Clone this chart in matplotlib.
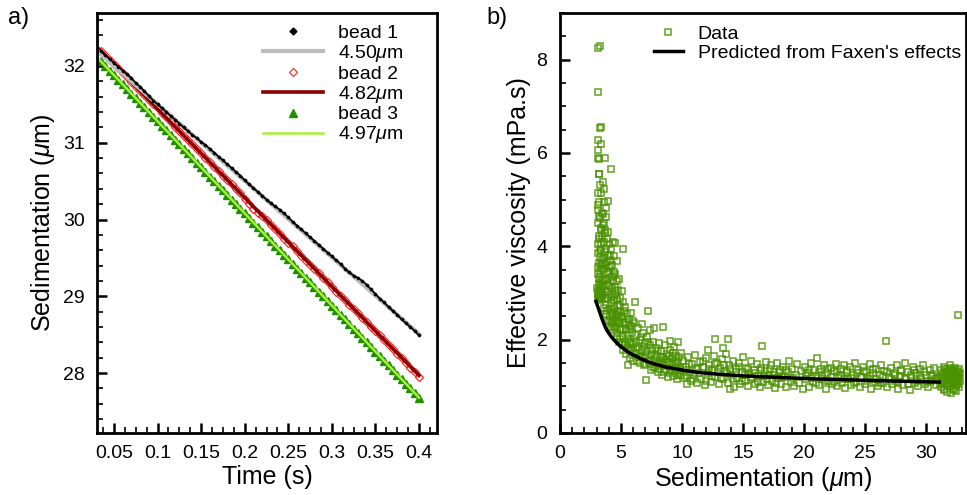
import numpy as np
import matplotlib.pyplot as plt
from matplotlib.ticker import MultipleLocator, FuncFormatter
from matplotlib.lines import Line2D

plt.rcParams['font.family'] = ['Liberation Sans', 'DejaVu Sans']
plt.rcParams['mathtext.fontset'] = 'custom'
plt.rcParams['mathtext.it'] = 'Liberation Sans:italic'
plt.rcParams['mathtext.rm'] = 'Liberation Sans'

# ---- panel a: sedimentation vs time for three beads ----
time = np.linspace(0.035, 0.4, 74)

bead1 = [32.19, 32.14, 32.09, 32.04, 31.99, 31.94, 31.89, 31.84, 31.78, 31.73,
         31.67, 31.61, 31.55, 31.50, 31.45, 31.40, 31.35, 31.30, 31.25, 31.20,
         31.15, 31.10, 31.06, 31.01, 30.97, 30.92, 30.87, 30.82, 30.77, 30.72,
         30.67, 30.62, 30.57, 30.51, 30.46, 30.41, 30.36, 30.31, 30.26, 30.21,
         30.17, 30.13, 30.08, 30.03, 29.97, 29.92, 29.87, 29.82, 29.77, 29.72,
         29.67, 29.62, 29.57, 29.52, 29.47, 29.42, 29.36, 29.31, 29.27, 29.24,
         29.20, 29.15, 29.09, 29.03, 28.97, 28.92, 28.86, 28.81, 28.76, 28.70,
         28.65, 28.60, 28.55, 28.49]
bead2 = [32.20, 32.14, 32.08, 32.02, 31.97, 31.91, 31.85, 31.79, 31.73, 31.67,
         31.62, 31.56, 31.50, 31.45, 31.39, 31.33, 31.27, 31.21, 31.15, 31.09,
         31.04, 30.98, 30.92, 30.86, 30.80, 30.75, 30.69, 30.63, 30.57, 30.51,
         30.46, 30.40, 30.34, 30.27, 30.20, 30.14, 30.09, 30.04, 29.99, 29.93,
         29.87, 29.81, 29.75, 29.70, 29.65, 29.59, 29.52, 29.46, 29.41, 29.36,
         29.30, 29.24, 29.18, 29.12, 29.06, 29.01, 28.95, 28.89, 28.84, 28.78,
         28.72, 28.66, 28.60, 28.55, 28.49, 28.43, 28.37, 28.31, 28.25, 28.19,
         28.13, 28.07, 28.01, 27.95]
bead3 = [32.06, 32.00, 31.94, 31.88, 31.82, 31.76, 31.70, 31.64, 31.58, 31.52,
         31.46, 31.40, 31.34, 31.28, 31.22, 31.16, 31.10, 31.04, 30.98, 30.92,
         30.86, 30.80, 30.74, 30.68, 30.62, 30.56, 30.50, 30.44, 30.38, 30.32,
         30.26, 30.20, 30.14, 30.08, 30.02, 29.96, 29.90, 29.84, 29.78, 29.72,
         29.66, 29.60, 29.54, 29.48, 29.42, 29.36, 29.30, 29.24, 29.18, 29.12,
         29.06, 29.00, 28.94, 28.88, 28.82, 28.76, 28.70, 28.64, 28.58, 28.52,
         28.46, 28.40, 28.34, 28.28, 28.22, 28.16, 28.10, 28.04, 27.98, 27.92,
         27.86, 27.80, 27.74, 27.67]

# fitted trajectories (bead diameters)
fit_t = [0.03, 0.4]
fit1 = [32.20, 28.51]   # 4.50 um
fit2 = [32.25, 27.97]   # 4.82 um
fit3 = [32.12, 27.68]   # 4.97 um

# ---- panel b: effective viscosity vs sedimentation ----
visc_x = [
    # close to the wall
    3.13, 3.30, 3.13, 3.27, 3.35, 3.13, 3.35, 3.13, 3.13, 3.20, 3.19, 3.19, 3.15, 3.40, 3.13,
    3.19, 3.13, 3.40, 3.13, 3.22, 3.10, 3.28, 3.35, 3.18, 3.25, 3.45, 3.12, 3.30, 3.22, 3.38,
    3.15, 3.48, 3.26, 3.10, 3.33, 3.20, 3.42, 3.17, 3.29, 3.36, 3.11, 3.24, 3.47, 3.19, 3.31,
    3.05, 3.39, 3.21, 3.14, 3.44, 3.27, 3.08, 3.35, 3.23, 3.16, 3.46, 3.30, 3.12, 3.40, 3.25,
    3.68, 4.17, 3.55, 3.60, 3.95, 3.60, 3.79, 3.55, 3.60, 3.68, 4.36, 4.50, 3.68, 4.05, 3.85,
    4.20, 3.75, 4.40, 3.90, 4.10, 3.58, 4.30, 3.72, 4.00, 4.45, 3.82, 4.15, 3.65, 4.35, 3.95,
    4.25, 3.55, 4.48, 3.88, 4.05, 3.70, 4.40, 4.20, 3.80, 4.00, 4.30, 3.62, 4.10, 4.45, 3.92,
    4.25, 4.50, 3.75, 4.35, 4.15,
    5.18, 4.64, 4.77, 4.55, 4.70, 4.85, 4.60, 4.95, 5.05, 4.75, 5.20, 4.90, 5.35, 4.58, 5.10,
    5.50, 4.80, 5.25, 5.65, 4.98, 5.40, 5.80, 5.15, 5.60, 4.70, 5.90, 5.30, 5.75, 5.05, 5.55,
    5.95, 5.45, 5.85, 5.70, 5.54, 5.98, 5.20, 4.88, 5.62, 5.82,
    6.14, 7.23, 6.74, 7.69, 8.46, 9.00, 9.68, 7.09,
    6.05, 6.20, 6.30, 6.40, 6.45, 6.55, 6.60, 6.70, 6.80, 6.85, 6.95, 7.05, 7.15, 7.30, 7.35,
    7.45, 7.50, 7.60, 7.70, 7.80, 7.85, 7.95, 8.05, 8.10, 8.20, 8.30, 8.35, 8.45, 8.55, 8.60,
    8.70, 8.80, 8.85, 8.95, 9.05, 9.10, 9.20, 9.30, 9.35, 9.45, 9.55, 9.60, 9.70, 9.80, 9.90,
    9.95, 6.25, 6.90, 7.40, 8.00, 8.65, 9.50,
    # mid range
    12.68, 13.77, 12.14, 13.37, 13.97, 16.56,
    10.05, 10.15, 10.30, 10.40, 10.50, 10.65, 10.75, 10.85, 11.00, 11.10, 11.25, 11.35, 11.50,
    11.60, 11.75, 11.85, 12.00, 12.10, 12.25, 12.35, 12.50, 12.60, 12.75, 12.85, 13.00, 13.10,
    13.25, 13.35, 13.50, 13.60, 13.75, 13.85, 14.00, 14.15, 14.25, 14.40, 14.50, 14.65, 14.75,
    14.90, 15.00, 15.15, 15.25, 15.40, 15.50, 15.65, 15.75, 15.90, 16.00, 16.15, 16.25, 16.40,
    16.50, 16.65, 16.80, 16.90, 17.05, 17.15, 17.30, 17.40, 17.55, 17.65, 17.80, 17.90, 18.05,
    18.15, 18.30, 18.45, 18.55, 18.70, 18.80, 18.95, 19.05, 19.20, 19.35, 19.45, 19.60, 19.75,
    19.90,
    # far from the wall
    20.05, 20.20, 20.35, 20.45, 20.60, 20.75, 20.85, 21.00, 21.10, 21.25, 21.40, 21.50, 21.65,
    21.80, 21.90, 22.05, 22.20, 22.30, 22.45, 22.60, 22.70, 22.85, 23.00, 23.10, 23.25, 23.40,
    23.50, 23.65, 23.80, 23.90, 24.05, 24.20, 24.30, 24.45, 24.60, 24.70, 24.85, 25.00, 25.10,
    25.25, 25.40, 25.50, 25.65, 25.80, 25.90, 26.05, 26.20, 26.35, 26.45, 26.60, 26.73, 26.80,
    26.95, 27.10, 27.20, 27.35, 27.50, 27.60, 27.75, 27.90, 28.00, 28.15, 28.30, 28.40, 28.55,
    28.70, 28.80, 28.95, 29.10, 29.20, 29.35, 29.50, 29.60, 29.75, 29.90, 30.00, 30.15, 30.30,
    30.40, 30.55, 30.70, 30.80, 30.95,
    31.10, 31.20, 31.25, 31.30, 31.40, 31.45, 31.50, 31.55, 31.60, 31.65, 31.70, 31.75, 31.80,
    31.85, 31.90, 31.95, 32.00, 32.05, 32.10, 32.15, 32.20, 32.25, 32.30, 32.35, 32.40, 32.45,
    32.50, 32.55, 32.60, 32.65, 32.70, 32.75, 32.80, 31.35, 31.95, 32.12, 32.42, 32.58, 32.68,
    32.60]
visc_y = [
    8.26, 8.30, 7.30, 6.54, 6.55, 6.27, 6.20, 6.07, 5.90, 5.88, 5.54, 5.56, 5.15, 5.14, 4.88,
    4.64, 4.78, 4.40, 4.49, 4.23, 4.05, 4.60, 4.35, 4.15, 3.95, 4.20, 3.85, 3.78, 3.65, 3.90,
    3.55, 3.70, 3.48, 3.40, 3.60, 3.30, 3.52, 3.20, 3.35, 3.12, 3.05, 3.18, 3.28, 2.98, 3.02,
    3.10, 2.92, 2.92, 2.88, 3.00, 2.86, 2.95, 2.96, 2.90, 3.05, 2.99, 2.93, 2.97, 2.89, 3.08,
    5.90, 5.66, 5.37, 5.22, 4.97, 4.94, 4.83, 4.69, 4.50, 4.35, 4.10, 4.07, 4.28, 4.05, 4.15,
    3.95, 3.95, 3.80, 3.80, 3.70, 3.75, 3.60, 3.62, 3.55, 3.45, 3.45, 3.35, 3.30, 3.25, 3.20,
    3.10, 3.15, 3.05, 3.02, 2.95, 2.90, 2.85, 2.78, 2.75, 2.65, 2.60, 2.68, 2.50, 2.45, 2.40,
    2.35, 2.30, 2.55, 2.20, 2.28,
    3.94, 3.68, 3.07, 3.40, 3.25, 3.30, 2.95, 2.90, 3.05, 2.75, 2.80, 2.60, 2.70, 2.55, 2.50,
    2.55, 2.40, 2.35, 2.45, 2.20, 2.20, 2.30, 2.05, 2.10, 2.15, 2.15, 1.95, 1.95, 1.90, 1.85,
    1.90, 1.70, 1.75, 1.60, 1.46, 1.55, 1.78, 2.02, 2.32, 2.58,
    2.80, 2.62, 2.34, 2.25, 2.28, 1.97, 1.96, 1.14,
    2.35, 2.10, 1.85, 2.25, 1.62, 2.00, 1.50, 1.78, 2.15, 1.45, 1.92, 1.68, 2.05, 1.52, 1.88,
    1.70, 1.35, 1.95, 1.58, 1.40, 1.82, 1.65, 1.30, 1.92, 1.55, 1.75, 1.25, 1.62, 1.45, 1.88,
    1.35, 1.70, 1.20, 1.52, 1.78, 1.38, 1.60, 1.22, 1.85, 1.45, 1.65, 1.15, 1.50, 1.32, 1.72,
    1.25, 1.72, 1.60, 2.20, 1.48, 1.58, 1.40,
    2.02, 2.02, 1.78, 1.83, 0.94, 1.87,
    1.55, 1.18, 1.42, 1.05, 1.62, 1.30, 1.12, 1.48, 1.25, 1.68, 1.08, 1.38, 1.52,
    1.15, 1.42, 1.02, 1.60, 1.28, 1.45, 1.10, 1.35, 1.65, 1.20, 1.50, 1.05, 1.40,
    1.58, 1.15, 1.32, 1.70, 1.08, 1.45, 1.25, 1.55, 0.98, 1.38, 1.18, 1.50, 1.05,
    1.30, 1.62, 1.12, 1.40, 1.00, 1.28, 1.55, 1.15, 1.35, 1.05, 1.48, 1.22, 0.98,
    1.40, 1.10, 1.32, 1.52, 1.02, 1.25, 1.45, 1.12, 1.30, 0.96, 1.50, 1.18, 1.35,
    1.05, 1.42, 1.20, 0.98, 1.30, 1.55, 1.10, 1.38, 1.00, 1.25, 1.48, 1.08, 1.32,
    0.95,
    1.42, 1.15, 1.28, 0.98, 1.50, 1.10, 1.35, 1.22, 1.60, 1.02, 1.38, 1.15, 1.45,
    0.95, 1.28, 1.12, 1.40, 1.05, 1.32, 1.48, 1.00, 1.22, 1.38, 1.08, 1.45, 0.96,
    1.30, 1.15, 1.42, 1.02, 1.25, 1.50, 1.10, 1.35, 0.98, 1.20, 1.42, 1.05, 1.30,
    1.15, 1.48, 0.95, 1.28, 1.10, 1.38, 1.00, 1.25, 1.45, 1.08, 1.32, 1.97, 0.98,
    1.20, 1.40, 1.05, 1.28, 1.12, 1.45, 0.95, 1.22, 1.35, 1.02, 1.50, 1.15, 1.30,
    0.92, 1.20, 1.42, 1.08, 1.28, 1.00, 1.38, 1.15, 1.45, 1.05, 1.25, 0.98, 1.35,
    1.12, 1.22, 1.40, 1.02, 1.18,
    1.20, 0.98, 1.35, 1.10, 1.28, 0.92, 1.42, 1.15, 1.05, 1.30, 0.88, 1.22, 1.38,
    1.00, 1.18, 1.45, 1.08, 0.85, 1.25, 1.35, 0.95, 1.15, 1.28, 1.02, 1.40, 1.12,
    0.90, 1.22, 1.32, 1.05, 1.18, 0.98, 1.28, 1.18, 1.12, 1.20, 1.25, 1.08, 1.38,
    2.53]

# second pass of measurements (same bead, denser sampling)
visc_x_more = [
    3.50, 3.58, 3.66, 3.74, 3.82, 3.90, 3.98, 4.06, 4.14, 4.22, 4.30, 4.38, 4.46, 4.54, 4.62,
    4.70, 4.78, 4.86, 4.94, 3.52, 3.62, 3.71, 3.80, 3.88, 3.97, 4.08, 4.18, 4.28, 4.38, 4.48,
    4.58, 4.68, 4.76, 4.84, 4.92, 3.45, 3.38, 3.42, 3.28, 3.22,
    5.05, 5.15, 5.25, 5.35, 5.45, 5.55, 5.65, 5.75, 5.85, 5.95, 6.10, 6.20, 6.35, 6.50, 6.65,
    6.75, 6.90, 7.00, 7.10, 7.25, 7.40, 7.55, 7.65, 7.75, 7.90, 8.05, 8.15, 8.25, 8.40, 8.50,
    8.75, 8.90, 9.00, 9.15, 9.25, 9.40, 9.55, 9.65, 9.75, 9.85,
    10.10, 10.35, 10.60, 10.90, 11.15, 11.40, 11.70, 11.95, 12.20, 12.45, 12.70, 12.95, 13.20,
    13.45, 13.70, 13.95, 14.20, 14.45, 14.70, 14.95, 15.20, 15.45, 15.70, 15.95, 16.20, 16.45,
    16.70, 16.95, 17.20, 17.45, 17.70, 17.95, 18.20, 18.50, 19.10,
    20.15, 20.40, 20.70, 20.95, 21.20, 21.45, 21.70, 21.95, 22.25, 22.50, 22.75, 23.05, 23.30,
    23.55, 23.85, 24.10, 24.35, 24.65, 24.90, 25.20, 25.45, 25.70, 25.95, 26.25, 26.50, 26.85,
    27.15, 27.45, 27.70, 27.95, 28.25, 28.50, 28.75, 29.05, 29.30, 29.55, 29.85, 30.10, 30.45,
    30.75,
    31.15, 31.28, 31.42, 31.58, 31.72, 31.88, 32.02, 32.18, 32.32, 32.48, 32.62, 32.78, 31.52,
    31.98, 32.28, 32.52, 32.72, 32.08, 31.82, 32.38]
visc_y_more = [
    4.45, 4.10, 3.88, 4.62, 3.66, 4.30, 3.40, 3.82, 3.15, 3.58, 2.92, 3.36, 2.70, 3.12, 2.52,
    2.88, 2.62, 2.35, 2.72, 3.25, 3.52, 3.05, 3.28, 2.62, 2.88, 2.42, 2.66, 2.38, 2.56, 2.25,
    2.38, 2.05, 2.48, 1.95, 2.22, 3.62, 4.05, 4.72, 5.32, 4.95,
    2.45, 2.22, 2.62, 1.88, 2.38, 2.02, 1.78, 2.22, 1.92, 2.40, 1.70, 1.95, 1.55, 1.80, 2.05,
    1.62, 1.85, 1.48, 1.75, 1.95, 1.55, 1.78, 1.42, 1.68, 1.50, 1.75, 1.38, 1.62, 1.48, 1.30,
    1.52, 1.65, 1.28, 1.48, 1.72, 1.32, 1.55, 1.25, 1.62, 1.40,
    1.35, 1.22, 1.48, 1.15, 1.40, 1.28, 1.55, 1.12, 1.38, 1.22, 1.48, 1.30, 1.18,
    1.45, 1.28, 1.38, 1.15, 1.30, 1.42, 1.12, 1.25, 1.38, 1.20, 1.28, 1.10, 1.35,
    1.22, 1.15, 1.38, 1.25, 1.08, 1.30, 1.20, 1.35, 1.18,
    1.25, 1.35, 1.18, 1.08, 1.30, 1.22, 1.12, 1.38, 1.20, 1.10, 1.30, 1.25, 1.15,
    1.35, 1.18, 1.08, 1.28, 1.20, 1.32, 1.12, 1.22, 1.38, 1.15, 1.08, 1.22, 1.30,
    1.15, 1.25, 1.10, 1.32, 1.18, 1.05, 1.25, 1.35, 1.12, 1.22, 1.30, 1.10, 1.25,
    1.15,
    1.05, 1.25, 1.12, 1.38, 1.05, 1.28, 1.18, 1.08, 1.35, 1.02, 1.15, 1.12, 0.95,
    1.32, 0.92, 1.30, 1.25, 1.40, 1.15, 1.20]

# prediction from Faxen's law
faxen_x = [2.95, 3.2, 3.4, 3.6, 3.82, 4.1, 4.4, 4.7, 5.0, 5.4, 5.8, 6.2, 6.55, 7.0, 7.6,
           8.7, 10.0, 11.2, 13.0, 15.3, 18.0, 20.7, 23.5, 26.2, 28.7, 31.1]
faxen_y = [2.82, 2.63, 2.48, 2.34, 2.21, 2.10, 2.00, 1.92, 1.85, 1.77, 1.70, 1.65, 1.60,
           1.55, 1.49, 1.41, 1.35, 1.30, 1.26, 1.22, 1.19, 1.16, 1.14, 1.12, 1.105, 1.09]

fig = plt.figure(figsize=(9.67, 4.95), dpi=100)
ax1 = fig.add_axes([0.1003, 0.1253, 0.3516, 0.8485])
ax2 = fig.add_axes([0.5791, 0.1253, 0.4200, 0.8485])

# panel a
g3, = ax1.plot(time, bead3, ls='none', marker='^', ms=6, color='#1f8f00', mec='#1f8f00')
f3, = ax1.plot(fit_t, fit3, color='#a6f03a', lw=1.8)
g2, = ax1.plot(time, bead2, ls='none', marker='D', ms=4.2, mfc='none', mec='#ff2a2a', mew=0.9)
f2, = ax1.plot(fit_t, fit2, color='#8b0000', lw=2.6)
f1, = ax1.plot(fit_t, fit1, color='#bdbdbd', lw=3.0)
ax1.plot(time, bead1, color='black', lw=1.3, marker='D', ms=1.4)
g1 = Line2D([], [], ls='none', marker='D', ms=3.5, color='black')

ax1.legend([g1, f1, g2, f2, g3, f3],
           ['bead 1', r'4.50$\mu$m', 'bead 2', r'4.82$\mu$m', 'bead 3', r'4.97$\mu$m'],
           loc='upper right', frameon=False, fontsize=14, numpoints=1,
           handlelength=3.1, handletextpad=0.75, labelspacing=0.05,
           borderaxespad=0.2, bbox_to_anchor=(0.935, 1.0))

ax1.set_xlim(0.0305, 0.4206)
ax1.set_ylim(27.22, 32.69)
ax1.xaxis.set_major_locator(MultipleLocator(0.05))
ax1.xaxis.set_minor_locator(MultipleLocator(0.0125))
ax1.xaxis.set_major_formatter(FuncFormatter(lambda v, p: '%g' % round(v, 3)))
ax1.yaxis.set_major_locator(MultipleLocator(1))
ax1.yaxis.set_minor_locator(MultipleLocator(0.2))
ax1.set_xlabel('Time (s)', fontsize=18, labelpad=2)
ax1.set_ylabel(r'Sedimentation ($\mu$m)', fontsize=18, labelpad=4)

# panel b
d, = ax2.plot(visc_x + visc_x_more, visc_y + visc_y_more, ls='none', marker='s', ms=4.4,
              mfc='none', mec='#4a9200', mew=1.1, alpha=0.85)
p, = ax2.plot(faxen_x, faxen_y, color='black', lw=2.5)
ax2.legend([d, p], ['Data', "Predicted from Faxen's effects"], loc='upper left',
           bbox_to_anchor=(0.2, 1.0), frameon=False, fontsize=14, numpoints=1,
           handlelength=1.5, handletextpad=0.75, labelspacing=0.05, borderaxespad=0.25)

ax2.set_xlim(0, 33.3)
ax2.set_ylim(0, 9.0)
ax2.xaxis.set_major_locator(MultipleLocator(5))
ax2.xaxis.set_minor_locator(MultipleLocator(1))
ax2.yaxis.set_major_locator(MultipleLocator(2))
ax2.yaxis.set_minor_locator(MultipleLocator(0.5))
ax2.set_xlabel(r'Sedimentation ($\mu$m)', fontsize=18, labelpad=2)
ax2.set_ylabel('Effective viscosity (mPa.s)', fontsize=18, labelpad=4)

for ax in (ax1, ax2):
    for s in ax.spines.values():
        s.set_linewidth(2)
    ax.tick_params(which='both', direction='in', top=False, right=False,
                   labelsize=14, pad=9)
    ax.tick_params(which='major', length=7, width=1.8)
    ax.tick_params(which='minor', length=4, width=1.2)

fig.text(0.008, 0.985, 'a)', fontsize=17, va='top')
fig.text(0.503, 0.985, 'b)', fontsize=17, va='top')

fig.savefig('out.png', dpi=100)
